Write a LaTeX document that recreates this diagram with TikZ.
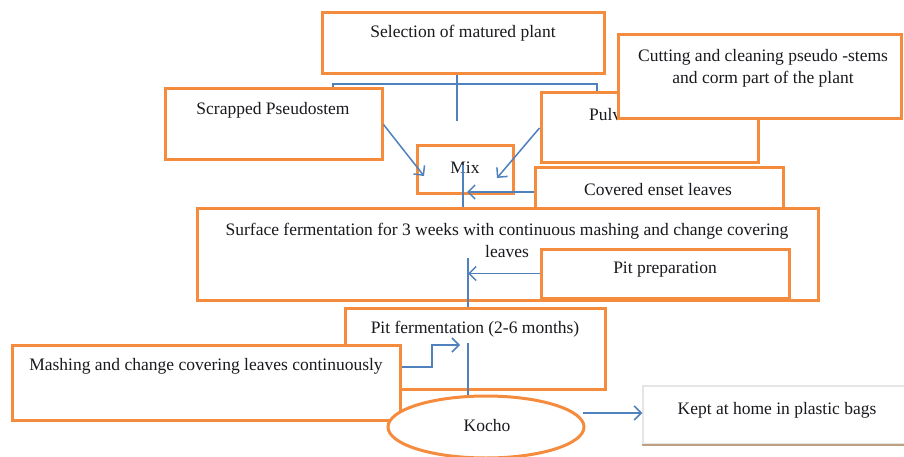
\documentclass[tikz,border=0pt]{standalone}
\usepackage{fontspec}
\setmainfont{Liberation Serif}
\usetikzlibrary{arrows.meta,shapes.geometric,calc}
\definecolor{bor}{RGB}{245,139,61}
\definecolor{lnk}{RGB}{79,129,189}
\definecolor{ink}{RGB}{25,25,30}
\begin{document}
\begin{tikzpicture}[x=1pt,y=-1pt,
  box/.style={draw=bor,line width=3pt,fill=white,rectangle,inner sep=0pt},
  txt/.style={font=\fontsize{17.5}{22}\selectfont,text=ink,inner sep=0pt,align=center},
  link/.style={draw=lnk,line width=1.5pt},
  arr/.style={link,-{Straight Barb[length=7pt,width=14pt,line width=1.5pt]}}]
\useasboundingbox (0,0) rectangle (904,457);
\fill[white] (0,0) rectangle (904,457);
% boxes
\node[box,minimum width=282,minimum height=61] (sel) at (463,43.5) {};
\node[txt] (tsel) at (463,33) {Selection of matured plant};
\node[box,minimum width=217,minimum height=71] (scr) at (273.5,124.5) {};
\node[txt] (tscr) at (273,110) {Scrapped Pseudostem};
\node[box,minimum width=217,minimum height=70] (pulv) at (649.5,128) {};
\node[txt,anchor=west] (tpulv) at (589,115) {Pulv};
\node[box,minimum width=283,minimum height=84] (cut) at (759.5,77) {};
\node[txt] (tcut) at (763,68) {Cutting and cleaning pseudo -stems\\and corm part of the plant};
\node[box,minimum width=96,minimum height=47] (mix) at (465,169.5) {};
\node[txt] (tmix) at (465,168) {Mix};
\node[box,minimum width=248,minimum height=44] (cov) at (659,190) {};
\node[txt] (tcov) at (658,190) {Covered enset leaves};
\node[box,minimum width=621,minimum height=92] (surf) at (507.5,254) {};
\node[txt] (tsurf) at (507,240) {Surface fermentation for 3 weeks with continuous mashing and change covering\\leaves};
\node[box,minimum width=248,minimum height=49] (pitp) at (665,273.5) {};
\node[txt] (tpitp) at (665,270) {Pit preparation};
\node[box,minimum width=260,minimum height=81] (pitf) at (475,348.5) {};
\node[txt] (tpitf) at (475,329) {Pit fermentation (2-6 months)};
\node[box,minimum width=388,minimum height=75] (mash) at (206,382.5) {};
\node[txt] (tmash) at (206,366) {Mashing and change covering leaves continuously};
\node[draw=bor,line width=3pt,fill=white,ellipse,inner sep=0pt,minimum width=196,minimum height=62] (kocho) at (486,427) {};
\node[txt] (tkocho) at (487,426) {Kocho};
\node[draw=gray!20,line width=1.5pt,fill=white,rectangle,inner sep=0pt,minimum width=263,minimum height=58] (kept) at (774.5,415) {};
\draw[draw={rgb,255:red,190;green,160;blue,130},line width=1.5pt] (kept.south west) -- (kept.south east);
\node[txt] (tkept) at (777,410) {Kept at home in plastic bags};
% connectors
\coordinate (bl) at (333,84);
\coordinate (br) at (597,84);
\coordinate (bc) at (457,84);
\coordinate (bend) at (457,121);
\draw[link] (bc |- sel.south) -- (bend);
\draw[link] (bl |- scr.north) -- (bl) -- (br) -- (br |- pulv.north);
\coordinate (m1) at (424,176);
\coordinate (m2) at (497,178);
\coordinate (m3) at (467,192);
\coordinate (m4) at (463,165);
\draw[arr] (scr.east) -- (m1);
\draw[arr] (pulv.west) -- (m2);
\draw[arr] (m3 -| cov.west) -- (m3);
\draw[link] (m4) -- (m4 |- surf.north);
\coordinate (s1) at (468,258);
\coordinate (s2) at (468,273.5);
\draw[link] (s1) -- (s1 |- pitf.north);
\draw[arr] (pitp.west) -- (s2);
\coordinate (p1) at (432,367);
\coordinate (p2) at (432,345);
\coordinate (p3) at (460,345);
\coordinate (p4) at (468,343);
\draw[arr] (p1 -| mash.east) -- (p1) -- (p2) -- (p3);
\draw[link] (p4) -- (p4 |- kocho.north);
\coordinate (k1) at (583,413);
\draw[arr] (k1) -- (k1 -| kept.west);
\end{tikzpicture}
\end{document}
